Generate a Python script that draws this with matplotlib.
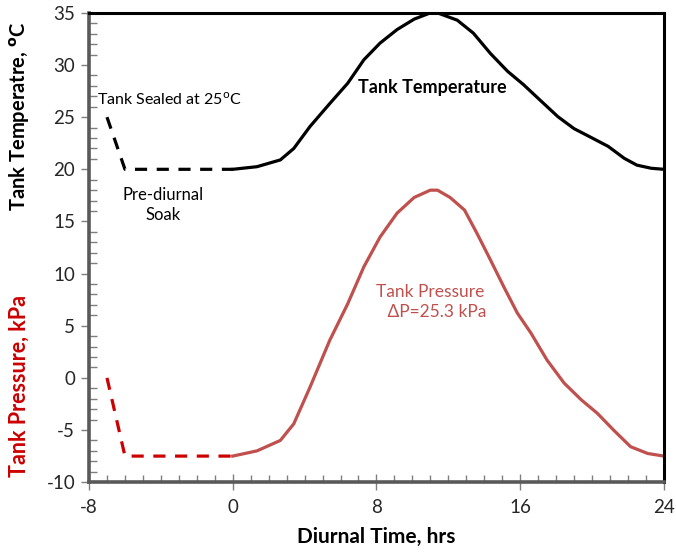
import matplotlib
matplotlib.use("Agg")
import matplotlib.pyplot as plt
from matplotlib.ticker import MultipleLocator

plt.rcParams['font.family'] = ['Lato', 'DejaVu Sans']
plt.rcParams['axes.unicode_minus'] = False

# soak period (dashed)
soak_t = [-7.0, -6.0, 0.0]
soak_temp = [25.0, 20.0, 20.0]
soak_pres = [0.0, -7.5, -7.5]

# diurnal period
temp_t = [0, 1.35, 2.65, 3.4, 4.3, 5.4, 6.4, 7.3, 8.2, 9.15, 10.1, 11.0, 11.4,
          12.5, 13.4, 14.35, 15.3, 16.2, 17.1, 18.1, 19.0, 19.9, 20.9, 21.8,
          22.5, 23.3, 24]
temp = [20.0, 20.25, 20.9, 22.0, 24.1, 26.3, 28.25, 30.5, 32.1, 33.4, 34.4, 35.0, 35.0,
        34.3, 33.05, 31.1, 29.4, 28.1, 26.65, 25.05, 23.9, 23.1, 22.2, 21.05,
        20.4, 20.1, 20.0]

pres_t = [0, 1.35, 2.65, 3.4, 4.3, 5.4, 6.4, 7.3, 8.2, 9.15, 10.1, 11.0, 11.4,
          12.1, 12.9, 13.6, 14.35, 15.1, 15.85, 16.6, 17.5, 18.45, 19.4, 20.3,
          21.2, 22.15, 23.1, 24]
pres = [-7.5, -7.0, -6.0, -4.4, -0.9, 3.6, 7.1, 10.65, 13.5, 15.8, 17.3, 18.0, 18.0,
        17.3, 16.1, 13.85, 11.3, 8.7, 6.2, 4.3, 1.7, -0.5, -2.1, -3.4,
        -5.0, -6.6, -7.25, -7.5]

xticks = [-8, 0, 8, 16, 24]

fig = plt.figure(figsize=(6.76, 5.6), dpi=100)
ax = fig.add_axes([0.1317, 0.139, 0.8503, 0.838])

dash = (0, (3.8, 3.0))
ax.plot(soak_t, soak_temp, color='black', lw=2.3, ls=dash)
ax.plot(temp_t, temp, color='black', lw=2.3, solid_joinstyle='round')
ax.plot(soak_t, soak_pres, color='#cc0000', lw=2.3, ls=dash)
ax.plot(pres_t, pres, color='#c0504d', lw=2.3, solid_joinstyle='round')

ax.set_xlim(-8, 24)
ax.set_ylim(-10, 35)
ax.set_xticks(xticks)
ax.xaxis.set_minor_locator(MultipleLocator(1))
ax.yaxis.set_major_locator(MultipleLocator(5))
ax.yaxis.set_minor_locator(MultipleLocator(1))

for side in ['left', 'bottom']:
    ax.spines[side].set_color('#595959')
    ax.spines[side].set_linewidth(2.6)
for side in ['top', 'right']:
    ax.spines[side].set_color('black')
    ax.spines[side].set_linewidth(2.2)

ax.tick_params(axis='y', which='major', direction='out', length=6, width=1,
               color='#7f7f7f', labelsize=13.5, labelcolor='#262626', pad=4)
ax.tick_params(axis='y', which='minor', direction='in', length=6, width=1,
               color='#7f7f7f')
ax.tick_params(axis='x', which='major', direction='inout', length=12, width=1,
               color='#7f7f7f', labelsize=13.5, labelcolor='#262626', pad=6)
ax.tick_params(axis='x', which='minor', direction='in', length=5, width=1,
               color='#7f7f7f')

ax.set_xlabel('Diurnal Time, hrs', fontsize=15, fontweight='bold', labelpad=8)

fig.text(0.028, 0.793, 'Tank Temperatre, $^{\\mathbf{o}}$C', rotation=90,
         fontsize=14.5, fontweight='bold', ha='center', va='center')
fig.text(0.028, 0.31, 'Tank Pressure, kPa', rotation=90, color='#cc0000',
         fontsize=15.5, fontweight='bold', ha='center', va='center')

ax.text(-7.55, 26.65, 'Tank Sealed at 25$^{\\mathrm{o}}$C', fontsize=11.5,
        va='center')
ax.text(-3.9, 16.6, 'Pre-diurnal\nSoak', fontsize=12, ha='center', va='center',
        linespacing=1.3)
ax.text(11.1, 27.8, 'Tank Temperature', fontsize=13, fontweight='bold',
        ha='center', va='center')
ax.text(11.0, 7.3, 'Tank Pressure\n   \u0394P=25.3 kPa', fontsize=12.5,
        color='#c0504d', ha='center', va='center', linespacing=1.3)

fig.savefig('out.png', dpi=100)
